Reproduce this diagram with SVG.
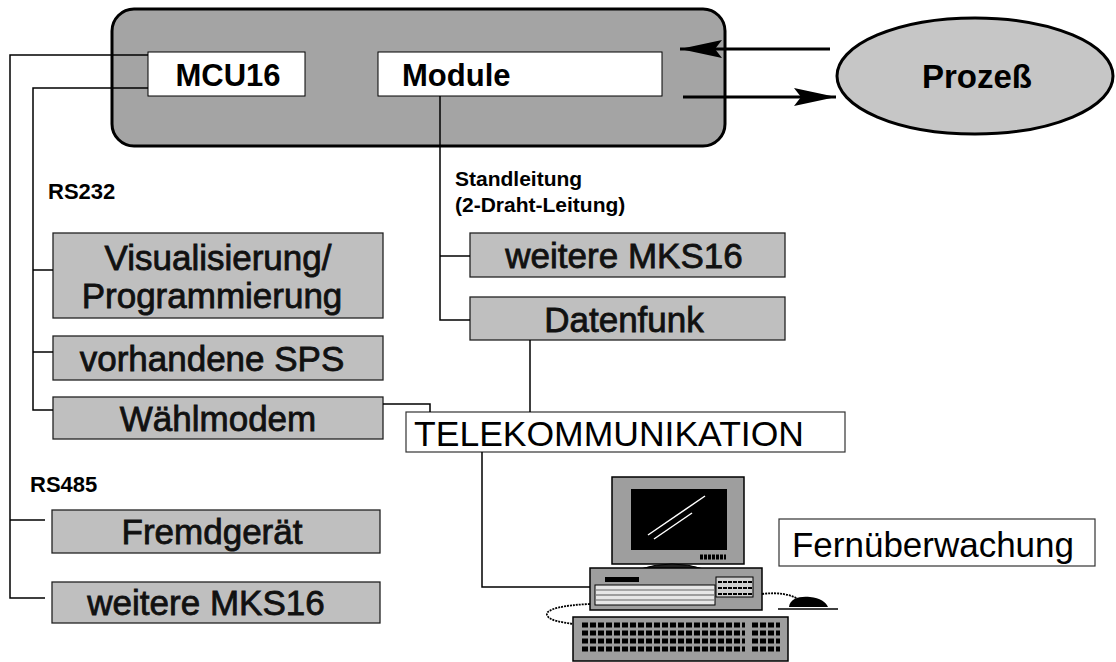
<svg xmlns="http://www.w3.org/2000/svg" width="1116" height="662" viewBox="0 0 1116 662">
  <defs>
    <style>
      .bg { fill: #ffffff; }
      .frame { fill: #a4a4a4; stroke: #000; stroke-width: 3; }
      .white { fill: #ffffff; stroke: #000; stroke-width: 1; }
      .plain { fill: #ffffff; stroke: #333; stroke-width: 1.2; }
      .gray { fill: #bfbfbf; stroke: #222; stroke-width: 1.3; }
      .proc { fill: #c6c6c6; stroke: #000; stroke-width: 3; }
      .conn { fill: none; stroke: #000; stroke-width: 1.5; }
      .flow { fill: none; stroke: #000; stroke-width: 3; }
      .bold { font-family: "Liberation Sans", Arial, sans-serif; font-weight: bold; fill: #000; }
      .big { font-family: "Liberation Sans", Arial, sans-serif; font-size: 35px; fill: #111; stroke: #111; stroke-width: 0.8; text-anchor: middle; }
      .reg { font-family: "Liberation Sans", Arial, sans-serif; font-size: 35px; fill: #000; }
      .pc { fill: #9e9e9e; stroke: #000; stroke-width: 1.5; }
      .key { fill: none; stroke: #000; stroke-width: 5; stroke-dasharray: 6 2; }
    </style>
    <marker id="head" markerUnits="userSpaceOnUse" markerWidth="42" markerHeight="20" refX="42" refY="10" orient="auto">
      <path d="M42,10 L0,1 L7,10 L0,19 Z" fill="#000"/>
    </marker>
  </defs>

  <rect class="bg" x="0" y="0" width="1116" height="662"/>

  <!-- controller frame with its two modules -->
  <g id="mcu-frame">
    <rect class="frame" x="112" y="9" width="613" height="137" rx="22" ry="22"/>
  </g>
  <g id="mcu16">
    <rect class="white" x="148" y="52" width="157" height="44"/>
    <text class="bold" x="228" y="86" font-size="31" text-anchor="middle">MCU16</text>
  </g>
  <g id="module">
    <rect class="white" x="378" y="52" width="284" height="44"/>
    <text class="bold" x="402" y="86" font-size="31">Module</text>
  </g>

  <!-- process -->
  <g id="prozess">
    <ellipse class="proc" cx="975" cy="76" rx="138" ry="58"/>
    <text class="bold" x="977" y="88" font-size="33" text-anchor="middle">Prozeß</text>
  </g>

  <!-- bus labels -->
  <g id="labels">
    <text class="bold" x="48" y="199" font-size="22">RS232</text>
    <text class="bold" x="30" y="492" font-size="22">RS485</text>
    <text class="bold" x="455" y="186" font-size="21">Standleitung</text>
    <text class="bold" x="455" y="212" font-size="21">(2-Draht-Leitung)</text>
  </g>

  <!-- RS232 devices -->
  <g id="visualisierung">
    <rect class="gray" x="53" y="233" width="330" height="85"/>
    <text class="big" x="218" y="270">Visualisierung/</text>
    <text class="big" x="212" y="308">Programmierung</text>
  </g>
  <g id="sps">
    <rect class="gray" x="53" y="336" width="330" height="44"/>
    <text class="big" x="212" y="371">vorhandene SPS</text>
  </g>
  <g id="waehlmodem">
    <rect class="gray" x="53" y="397" width="330" height="42"/>
    <text class="big" x="218" y="431">Wählmodem</text>
  </g>

  <!-- RS485 devices -->
  <g id="fremdgeraet">
    <rect class="gray" x="52" y="510" width="328" height="43"/>
    <text class="big" x="212" y="544">Fremdgerät</text>
  </g>
  <g id="mks16-rs485">
    <rect class="gray" x="52" y="582" width="328" height="41"/>
    <text class="big" x="206" y="615">weitere MKS16</text>
  </g>

  <!-- leased line devices -->
  <g id="mks16-standleitung">
    <rect class="gray" x="470" y="233" width="315" height="44"/>
    <text class="big" x="624" y="268">weitere MKS16</text>
  </g>
  <g id="datenfunk">
    <rect class="gray" x="470" y="297" width="315" height="43"/>
    <text class="big" x="624" y="332">Datenfunk</text>
  </g>

  <!-- telecommunication and remote monitoring -->
  <g id="telekommunikation">
    <rect class="plain" x="406" y="412" width="439" height="40"/>
    <text class="reg" x="414" y="446" textLength="390" lengthAdjust="spacingAndGlyphs">TELEKOMMUNIKATION</text>
  </g>
  <g id="fernueberwachung">
    <rect class="plain" x="779" y="519" width="316" height="47"/>
    <text class="reg" x="792" y="557" textLength="282" lengthAdjust="spacingAndGlyphs">Fernüberwachung</text>
  </g>

  <!-- desktop computer -->
  <g id="computer">
    <!-- monitor -->
    <rect class="pc" x="612" y="477" width="132" height="87"/>
    <rect x="631" y="489" width="96" height="61" fill="#000"/>
    <line x1="648" y1="535" x2="705" y2="496" stroke="#fff" stroke-width="1.5"/>
    <line x1="654" y1="539" x2="692" y2="513" stroke="#fff" stroke-width="1.5"/>
    <line x1="700" y1="557" x2="726" y2="557" stroke="#000" stroke-width="5" stroke-dasharray="3 1"/>
    <path d="M640,569 Q672,559 704,569 Z" fill="#222" stroke="#000" stroke-width="1"/>
    <!-- system unit -->
    <rect class="pc" x="590" y="568" width="172" height="42"/>
    <rect x="605" y="577" width="34" height="5" fill="#000"/>
    <rect x="595" y="585" width="120" height="20" fill="#e6e6e6" stroke="#000" stroke-width="1"/>
    <line x1="596" y1="590" x2="714" y2="590" stroke="#666" stroke-width="1.2"/>
    <line x1="596" y1="595" x2="714" y2="595" stroke="#555" stroke-width="1.2"/>
    <line x1="596" y1="600" x2="714" y2="600" stroke="#666" stroke-width="1.2"/>
    <rect x="716" y="577" width="37" height="20" fill="#cfcfcf" stroke="#000" stroke-width="1"/>
    <line x1="718" y1="582" x2="752" y2="582" stroke="#000" stroke-width="2" stroke-dasharray="4 1"/>
    <line x1="718" y1="588" x2="752" y2="588" stroke="#000" stroke-width="2" stroke-dasharray="4 1"/>
    <line x1="718" y1="594" x2="752" y2="594" stroke="#000" stroke-width="2" stroke-dasharray="4 1"/>
    <!-- mouse -->
    <path d="M762,594 C778,592 790,594 800,600" fill="none" stroke="#000" stroke-width="1.8" stroke-dasharray="2 1"/>
    <path d="M789,607 C790,598 800,596 810,597 C820,598 826,602 828,607 Z" fill="#000"/>
    <line x1="778" y1="609" x2="838" y2="609" stroke="#000" stroke-width="1.5"/>
    <!-- keyboard cord -->
    <path d="M590,604 C565,605 545,609 547,615 C549,621 562,622 573,624" fill="none" stroke="#000" stroke-width="1.8" stroke-dasharray="2 1"/>
    <!-- keyboard -->
    <rect class="pc" x="573" y="617" width="215" height="44"/>
    <line class="key" x1="582" y1="625" x2="745" y2="625"/>
    <line class="key" x1="582" y1="633" x2="745" y2="633"/>
    <line class="key" x1="582" y1="641" x2="745" y2="641"/>
    <line class="key" x1="582" y1="649" x2="745" y2="649"/>
    <line class="key" x1="752" y1="625" x2="780" y2="625"/>
    <line class="key" x1="752" y1="633" x2="780" y2="633"/>
    <line class="key" x1="752" y1="641" x2="780" y2="641"/>
    <line class="key" x1="752" y1="649" x2="780" y2="649"/>
  </g>

  <!-- connecting lines -->
  <g id="connectors">
    <!-- RS485 bus -->
    <path class="conn" d="M148,55 H10 V598 H45"/>
    <line class="conn" x1="10" y1="520" x2="45" y2="520"/>
    <!-- RS232 bus -->
    <path class="conn" d="M148,88 H33 V410 H53"/>
    <line class="conn" x1="33" y1="270" x2="53" y2="270"/>
    <line class="conn" x1="33" y1="352" x2="53" y2="352"/>
    <!-- leased line -->
    <path class="conn" d="M440,96 V320 H470"/>
    <line class="conn" x1="440" y1="256" x2="470" y2="256"/>
    <!-- radio and modem to telecommunication -->
    <line class="conn" x1="530" y1="340" x2="530" y2="412"/>
    <path class="conn" d="M383,404 H430 V412"/>
    <!-- telecommunication to computer -->
    <path class="conn" d="M482,452 V587 H590"/>
    <!-- process signals -->
    <line class="flow" x1="830" y1="49" x2="680" y2="49" marker-end="url(#head)"/>
    <line class="flow" x1="683" y1="97" x2="836" y2="97" marker-end="url(#head)"/>
  </g>
</svg>
